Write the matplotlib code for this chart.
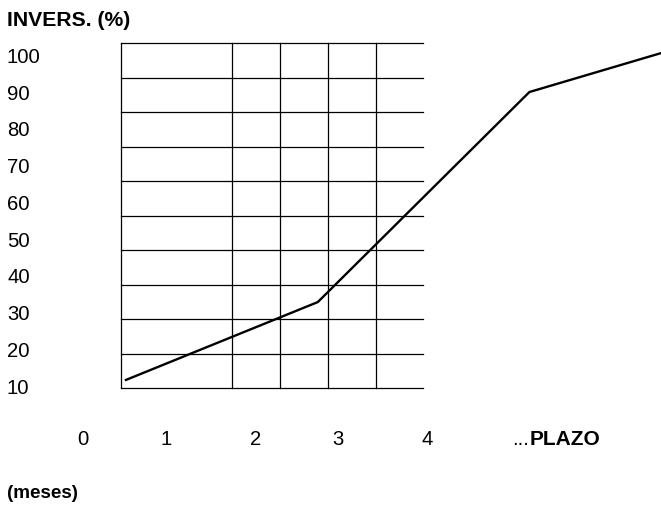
import numpy as np
import matplotlib
matplotlib.use("Agg")
import matplotlib.pyplot as plt
import matplotlib.transforms as mtransforms

plt.rcParams['font.family'] = ['Liberation Sans', 'DejaVu Sans']

# Datos de la curva (plazo vs inversión %)
plazo = [0.50, 2.73, 5.19, 6.72]
inversion = [12.2, 33.4, 90.6, 101.2]

# Etiquetas de los ejes
y_labels = [10, 20, 30, 40, 50, 60, 70, 80, 90, 100]
x_tick_pos = [0, 0.965, 2.01, 2.965, 4.0]
x_tick_labels = ['0', '1', '2', '3', '4']

# Cuadrícula (sin línea vertical en el borde derecho)
grid_x = [0.442, 1.733, 2.29, 2.849, 3.407]
grid_right = 3.953
grid_y = np.linspace(10, 103.95, 11)

fig = plt.figure(figsize=(6.61, 5.05), dpi=100)
W, H = 661, 505
ax = fig.add_axes([121 / W, 1 - 388 / H, (423 - 121) / W, (388 - 43) / H])
ax.set_xlim(grid_x[0], grid_right)
ax.set_ylim(grid_y[0], grid_y[-1])
ax.axis('off')

for gx in grid_x:
    ax.plot([gx, gx], [grid_y[0], grid_y[-1]], color='black', lw=0.9,
            clip_on=False)
for gy in grid_y:
    ax.plot([grid_x[0], grid_right], [gy, gy], color='black', lw=0.9,
            clip_on=False)

ax.plot(plazo, inversion, color='black', lw=1.7, clip_on=False,
        solid_joinstyle='miter')

fs = 14.6
left_tr = mtransforms.blended_transform_factory(fig.transFigure, ax.transData)
for v in y_labels:
    ax.text(7 / W, v, str(v), transform=left_tr, fontsize=fs,
            ha='left', va='center')

for p, lab in zip(x_tick_pos, x_tick_labels):
    ax.text(p, -4.1, lab, fontsize=fs, ha='center', va='center', clip_on=False)
ax.text(4.988, -4.1, '...', fontsize=fs, ha='left', va='center')
ax.text(5.19, -4.1, 'PLAZO', fontsize=15, ha='left', va='center',
        fontweight='bold')

fig.text(7 / W, 1 - 21 / H, 'INVERS. (%)', fontsize=15.2, fontweight='bold',
         ha='left', va='center')
fig.text(7 / W, 1 - 493 / H, '(meses)', fontsize=13.6, fontweight='bold',
         ha='left', va='center')

fig.savefig('out.png', dpi=100)
